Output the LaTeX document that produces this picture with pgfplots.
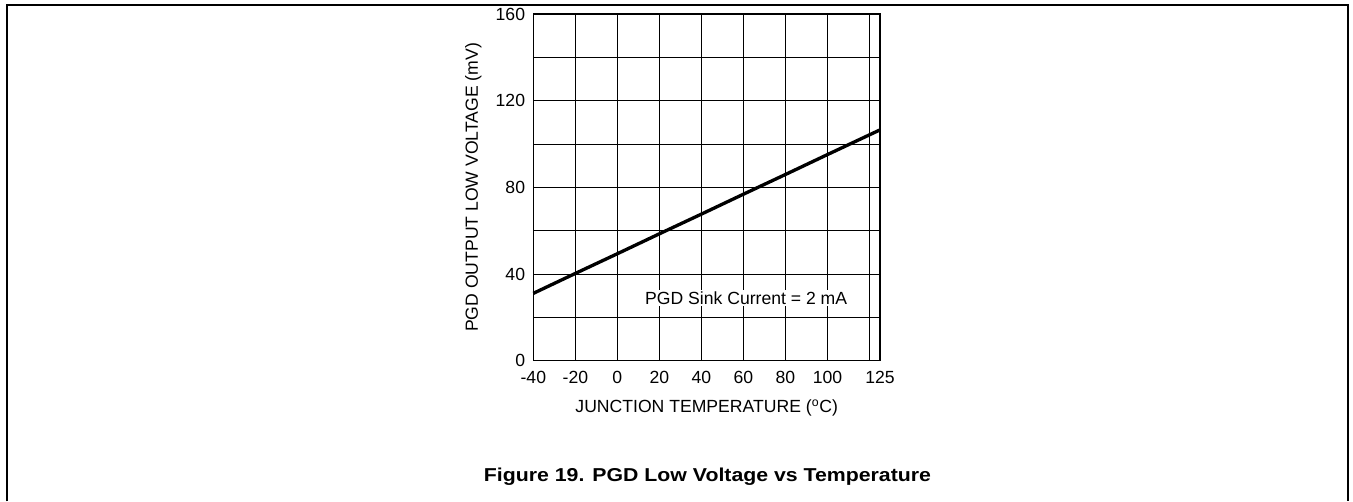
\documentclass[border=0pt]{standalone}
\usepackage{pgfplots}
\pgfplotsset{compat=1.18}
\usepackage{fontspec}
\setmainfont{Liberation Sans}
\begin{document}
\fontsize{13.2pt}{15pt}\selectfont
\begin{tikzpicture}
\path[use as bounding box] (0pt,0pt) rectangle (1014.75pt,-375.75pt);
\draw[line width=1.1pt] (5.25pt,-376pt) -- (5.25pt,-3.75pt) -- (1011pt,-3.75pt) -- (1011pt,-376pt);
\begin{axis}[
  at={(400pt,-270.5pt)}, anchor=south west,
  scale only axis, width=260pt, height=259.8pt,
  xmin=-40, xmax=125, ymin=0, ymax=160,
  xtick={-40,-20,...,100,125},
  extra x ticks={120}, extra x tick labels={},
  ytick={0,40,80,120,160},
  extra y ticks={20,60,100,140}, extra y tick labels={},
  grid=major,
  extra tick style={grid=major, major tick length=0pt},
  major grid style={line width=0.6pt, black},
  major tick length=0pt,
  axis line style={line width=1.2pt},
  /pgf/number format/assume math mode=true,
  tick label style={font=\fontsize{13.2pt}{15pt}\selectfont},
  xticklabel style={anchor=center, yshift=-12.75pt},
  yticklabel style={anchor=east, inner sep=0pt, xshift=-6pt},
  every axis x label/.style={at={(axis description cs:0.5,0)}, yshift=-35.5pt, anchor=center},
  every axis y label/.style={at={(axis description cs:0,0.5)}, xshift=-45pt, rotate=90, anchor=center},
  xlabel={JUNCTION TEMPERATURE (\textsuperscript{o}C)},
  ylabel={PGD OUTPUT LOW VOLTAGE (mV)},
  clip=false,
]
\addplot[black, line width=2.5pt] coordinates {
  (-40,31.1) (-20,40.3) (0,49.4) (20,58.6) (40,67.7) (60,76.9) (80,86.0) (100,95.2) (125,106.6)
};
\node[fill=white, inner sep=1pt] at (axis cs:61.3,29) {PGD Sink Current = 2 mA};
\end{axis}
\node at (530.6pt,-357.75pt) {\scalebox{1.14}[1]{\fontsize{14pt}{16pt}\selectfont\bfseries Figure 19. PGD Low Voltage vs Temperature}};
\end{tikzpicture}
\end{document}
